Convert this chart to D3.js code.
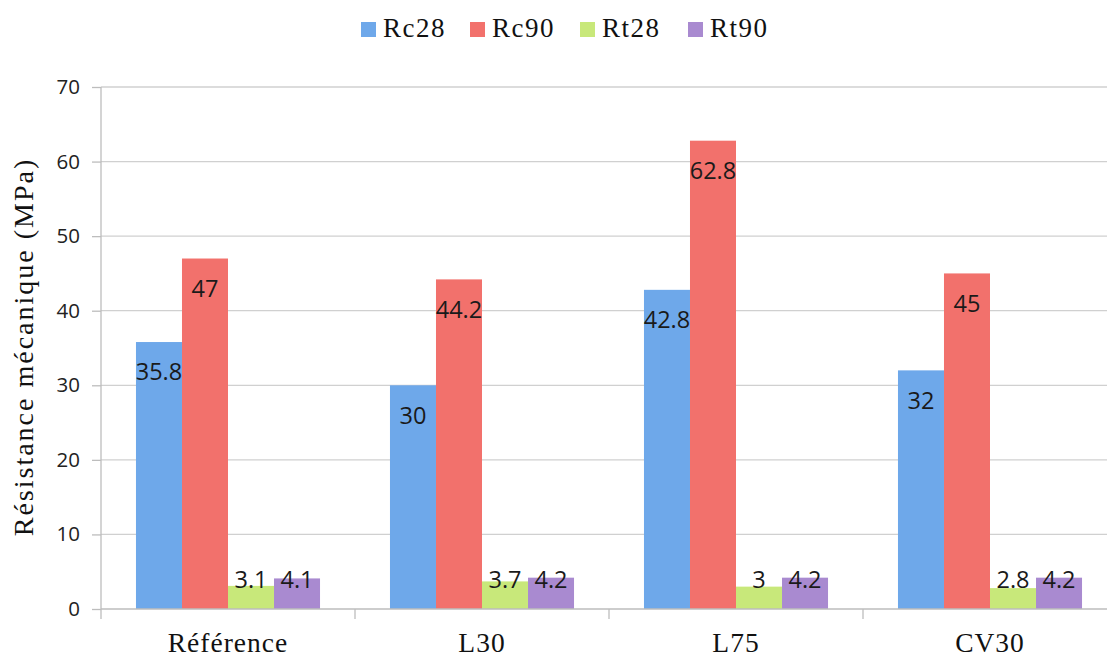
<!DOCTYPE html>
<html>
<head>
<meta charset="utf-8">
<script src="https://cdn.jsdelivr.net/npm/d3@7"></script>
<style>
  html, body { margin: 0; padding: 0; background: #fff; }
  svg { display: block; }
</style>
</head>
<body>
<svg id="chart" width="1107" height="659"></svg>
<script>
// Mechanical strength per mix (MPa)
const categories = ["Référence", "L30", "L75", "CV30"];
const seriesNames = ["Rc28", "Rc90", "Rt28", "Rt90"];
const rc28 = [35.8, 30, 42.8, 32];
const rc90 = [47, 44.2, 62.8, 45];
const rt28 = [3.1, 3.7, 3, 2.8];
const rt90 = [4.1, 4.2, 4.2, 4.2];
const yTicks = [0, 10, 20, 30, 40, 50, 60, 70];
const colors = ["#6ea8ea", "#f2716c", "#c8e87a", "#a98ad0"];

const seriesValues = [rc28, rc90, rt28, rt90];

const svg = d3.select("#chart");
const W = 1107, H = 659;
const m = { left: 101, right: -10, top: 87, bottom: 50 };

const serif = "'Liberation Serif', 'DejaVu Serif', serif";
const sans = "'Open Sans', 'Noto Sans', sans-serif";

const y = d3.scaleLinear().domain([0, 70]).range([H - m.bottom, m.top]);
const x0 = d3.scaleBand().domain(categories).range([m.left, W - m.right]).paddingInner(0).paddingOuter(0);
const x1 = d3.scaleBand().domain(seriesNames).range([0, x0.bandwidth()]).paddingOuter(0.76).paddingInner(0);

// gridlines
svg.append("g")
  .selectAll("line")
  .data(yTicks.filter(t => t > 0))
  .join("line")
  .attr("x1", m.left).attr("x2", W)
  .attr("y1", d => y(d)).attr("y2", d => y(d))
  .attr("stroke", "#d0d0d0").attr("stroke-width", 1.3);

// y axis
const yAxis = svg.append("g")
  .attr("transform", `translate(${m.left},0)`)
  .call(d3.axisLeft(y).tickValues(yTicks).tickSize(9).tickPadding(12));
yAxis.select(".domain").attr("stroke", "#bdbdbd").attr("stroke-width", 1.3)
  .attr("d", `M0,${y(70)}V${y(0) + 10}`);
yAxis.selectAll(".tick line").attr("stroke", "#bdbdbd").attr("stroke-width", 1.3);
yAxis.selectAll(".tick text")
  .attr("font-family", sans).attr("font-size", 20.5).attr("fill", "#222");

// bars
const groups = svg.append("g")
  .selectAll("g")
  .data(categories)
  .join("g")
  .attr("transform", c => `translate(${x0(c)},0)`);

groups.selectAll("rect")
  .data((c, i) => seriesNames.map((s, k) => ({ s, k, v: seriesValues[k][i] })))
  .join("rect")
  .attr("x", d => x1(d.s))
  .attr("width", x1.bandwidth())
  .attr("y", d => y(d.v))
  .attr("height", d => y(0) - y(d.v))
  .attr("fill", d => colors[d.k]);

// value labels, placed near the top inside the bar
groups.selectAll("text")
  .data((c, i) => seriesNames.map((s, k) => ({ s, k, v: seriesValues[k][i] })))
  .join("text")
  .attr("x", d => x1(d.s) + x1.bandwidth() / 2)
  .attr("y", d => Math.min(y(d.v) + 30, y(0) - 29))
  .attr("dy", "0.36em")
  .attr("text-anchor", "middle")
  .attr("font-family", sans).attr("font-size", 23.5).attr("fill", "#1a1a1a")
  .text(d => d.v);

// x axis
const xAxisG = svg.append("g");
xAxisG.append("line")
  .attr("x1", m.left).attr("x2", W)
  .attr("y1", y(0)).attr("y2", y(0))
  .attr("stroke", "#bdbdbd").attr("stroke-width", 1.3);
xAxisG.selectAll("line.sep")
  .data(categories.slice(1))
  .join("line")
  .attr("class", "sep")
  .attr("x1", c => x0(c)).attr("x2", c => x0(c))
  .attr("y1", y(0)).attr("y2", y(0) + 10)
  .attr("stroke", "#bdbdbd").attr("stroke-width", 1.3);
xAxisG.selectAll("text")
  .data(categories)
  .join("text")
  .attr("x", c => x0(c) + x0.bandwidth() / 2)
  .attr("y", 652)
  .attr("text-anchor", "middle")
  .attr("font-family", serif).attr("font-size", 27.5).attr("letter-spacing", 1).attr("fill", "#111")
  .text(c => c);

// y axis title
svg.append("text")
  .attr("transform", `translate(33,${347}) rotate(-90)`)
  .attr("text-anchor", "middle")
  .attr("font-family", serif).attr("font-size", 28).attr("letter-spacing", 2).attr("fill", "#111")
  .text("Résistance mécanique (MPa)");

// legend
const legendX = [361, 470, 580, 688];
const legend = svg.append("g")
  .selectAll("g")
  .data(seriesNames)
  .join("g")
  .attr("transform", (s, i) => `translate(${legendX[i]},22)`);
legend.append("rect")
  .attr("width", 15).attr("height", 15)
  .attr("fill", (s, i) => colors[i]);
legend.append("text")
  .attr("x", 22).attr("y", 15)
  .attr("font-family", serif).attr("font-size", 27).attr("letter-spacing", 1.5).attr("fill", "#111")
  .text(s => s);
</script>
</body>
</html>
